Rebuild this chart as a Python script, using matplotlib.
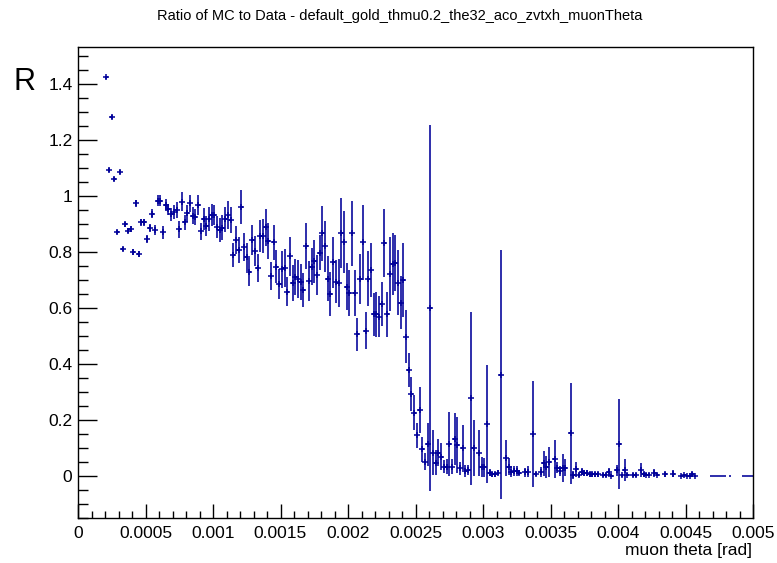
import numpy as np
import matplotlib
matplotlib.use('Agg')
import matplotlib.pyplot as plt
from matplotlib.ticker import MultipleLocator, FixedLocator

plt.rcParams['font.family'] = ['Liberation Sans', 'DejaVu Sans']

# histogram: 250 bins from 0 to 0.005 rad
bin_width = 0.00002
bins = [10, 11, 12, 13, 14, 15, 16, 17, 18, 19,
        20, 21, 22, 23, 24, 25, 26, 27, 28, 29,
        30, 31, 32, 33, 34, 35, 36, 37, 38, 39,
        40, 41, 42, 43, 44, 45, 46, 47, 48, 49,
        50, 51, 52, 53, 54, 55, 56, 57, 58, 59,
        60, 61, 62, 63, 64, 65, 66, 67, 68, 69,
        70, 71, 72, 73, 74, 75, 76, 77, 78, 79,
        80, 81, 82, 83, 84, 85, 86, 87, 88, 89,
        90, 91, 92, 93, 94, 95, 96, 97, 98, 99,
        100, 101, 102, 103, 104, 105, 106, 107, 108, 109,
        110, 111, 112, 113, 114, 115, 116, 117, 118, 119,
        120, 121, 122, 123, 124, 125, 126, 127, 128, 129,
        130, 131, 132, 133, 134, 135, 136, 137, 138, 139,
        140, 141, 142, 143, 144, 145, 146, 148, 149,
        150, 151, 152, 153, 154, 155, 156, 158, 159,
        160, 161, 162, 163, 165, 166, 168, 169,
        171, 172, 173, 174, 176, 177, 178, 179,
        180, 182, 183, 184, 185, 186, 187, 188, 189,
        190, 191, 192, 194, 195, 196, 197, 199,
        200, 201, 202, 203, 205, 206, 208, 209,
        210, 211, 213, 214, 217, 220,
        223, 224, 225, 226, 227, 228,
        234, 235, 236, 237, 238, 239, 241,
        246, 247, 248, 249]
ratio = [1.424, 1.093, 1.283, 1.06, 0.87, 1.085, 0.81, 0.899, 0.876, 0.882,
         0.80, 0.974, 0.793, 0.906, 0.906, 0.846, 0.885, 0.936, 0.879, 0.983,
         0.983, 0.870, 0.968, 0.952, 0.934, 0.944, 0.95, 0.881, 0.98, 0.906,
         0.938, 0.974, 0.929, 0.925, 0.969, 0.874, 0.918, 0.892, 0.918, 0.933,
         0.933, 0.89, 0.879, 0.886, 0.916, 0.932, 0.914, 0.789, 0.843, 0.807,
         0.96, 0.819, 0.783, 0.73, 0.843, 0.804, 0.744, 0.857, 0.857, 0.888,
         0.839, 0.715, 0.835, 0.748, 0.686, 0.738, 0.743, 0.658, 0.785, 0.69,
         0.712, 0.704, 0.694, 0.664, 0.82, 0.696, 0.748, 0.767, 0.718, 0.798,
         0.867, 0.82, 0.704, 0.65, 0.763, 0.694, 0.69, 0.867, 0.835, 0.676,
         0.655, 0.867, 0.655, 0.506, 0.704, 0.835, 0.519, 0.704, 0.736, 0.577,
         0.577, 0.569, 0.614, 0.831, 0.577, 0.721, 0.757, 0.762, 0.69, 0.619,
         0.70, 0.498, 0.379, 0.293, 0.226, 0.146, 0.236, 0.095, 0.051, 0.114,
         0.60, 0.083, 0.048, 0.083, 0.069, 0.033, 0.033, 0.114, 0.033, 0.132,
         0.111, 0.027, 0.101, 0.018, 0.021, 0.277, 0.101, 0.083, 0.033,
         0.031, 0.186, 0.012, 0.006, 0.006, 0.012, 0.362, 0.065, 0.033,
         0.015, 0.018, 0.018, 0.012, 0.013, 0.015, 0.15, 0.007,
         0.013, 0.045, 0.033, 0.051, 0.061, 0.03, 0.018, 0.027,
         0.03, 0.152, 0.004, 0.024, 0.004, 0.015, 0.01, 0.01, 0.006,
         0.006, 0.006, 0.006, 0.004, 0.004, 0.015, 0.001, 0.021,
         0.114, 0.002, 0.021, 0.004, 0.004, 0.004, 0.021, 0.006,
         0.004, 0.004, 0.01, 0.004, 0.006, 0.008,
         0.001, 0.002, 0.001, 0.001, 0.006, 0.001,
         0.0, 0.0, 0.0, 0.0, 0.0, 0.0, 0.0,
         0.0, 0.0, 0.0, 0.0]
ratio_err = [0.006, 0.006, 0.007, 0.007, 0.007, 0.008, 0.008, 0.009, 0.01, 0.01,
             0.01, 0.012, 0.012, 0.013, 0.013, 0.015, 0.015, 0.016, 0.017, 0.02,
             0.02, 0.022, 0.02, 0.02, 0.022, 0.025, 0.028, 0.03, 0.033, 0.027,
             0.03, 0.03, 0.03, 0.03, 0.036, 0.03, 0.039, 0.036, 0.042, 0.039,
             0.036, 0.039, 0.042, 0.045, 0.045, 0.05, 0.048, 0.042, 0.05, 0.048,
             0.06, 0.05, 0.05, 0.05, 0.054, 0.054, 0.05, 0.057, 0.06, 0.065,
             0.065, 0.05, 0.063, 0.06, 0.054, 0.067, 0.068, 0.052, 0.07, 0.064,
             0.064, 0.067, 0.064, 0.06, 0.082, 0.07, 0.067, 0.077, 0.071, 0.064,
             0.098, 0.092, 0.08, 0.079, 0.092, 0.077, 0.086, 0.125, 0.11, 0.083,
             0.082, 0.116, 0.082, 0.058, 0.09, 0.134, 0.067, 0.098, 0.096, 0.077,
             0.079, 0.073, 0.08, 0.121, 0.079, 0.131, 0.11, 0.1, 0.116, 0.095,
             0.131, 0.095, 0.06, 0.06, 0.062, 0.045, 0.083, 0.045, 0.03, 0.077,
             0.655, 0.08, 0.045, 0.048, 0.048, 0.024, 0.027, 0.113, 0.027, 0.093,
             0.1, 0.024, 0.08, 0.02, 0.018, 0.31, 0.1, 0.083, 0.036,
             0.033, 0.21, 0.012, 0.008, 0.008, 0.01, 0.444, 0.065, 0.03,
             0.02, 0.018, 0.018, 0.01, 0.015, 0.02, 0.19, 0.008,
             0.018, 0.045, 0.04, 0.053, 0.067, 0.02, 0.018, 0.05,
             0.03, 0.18, 0.015, 0.027, 0.008, 0.012, 0.01, 0.01, 0.008,
             0.008, 0.008, 0.008, 0.006, 0.006, 0.015, 0.005, 0.02,
             0.16, 0.006, 0.04, 0.005, 0.006, 0.006, 0.025, 0.008,
             0.005, 0.005, 0.015, 0.005, 0.01, 0.012,
             0.002, 0.003, 0.002, 0.002, 0.008, 0.002,
             0.0, 0.0, 0.0, 0.0, 0.0, 0.0, 0.0,
             0.0, 0.0, 0.0, 0.0]

x_ticks = [0, 0.0005, 0.001, 0.0015, 0.002, 0.0025, 0.003, 0.0035, 0.004, 0.0045, 0.005]
x_ticklabels = ['0', '0.0005', '0.001', '0.0015', '0.002', '0.0025', '0.003',
                '0.0035', '0.004', '0.0045', '0.005']
y_ticks = [0, 0.2, 0.4, 0.6, 0.8, 1.0, 1.2, 1.4]
y_ticklabels = ['0', '0.2', '0.4', '0.6', '0.8', '1', '1.2', '1.4']

theta = (np.array(bins) + 0.5) * bin_width
ratio = np.array(ratio)
ratio_err = np.array(ratio_err)
nz = ratio_err > 0   # bins with zero error are drawn as plain dashes

fig = plt.figure(figsize=(7.77, 5.63), dpi=100)
ax = fig.add_axes([78/777, 45/563, 675/777, (518-47)/563])

col = '#000099'
ax.errorbar(theta[nz], ratio[nz], yerr=ratio_err[nz], xerr=bin_width/2, fmt='+',
            color=col, ms=3.8, mew=1.1,
            ecolor=col, elinewidth=1.15, capsize=0)
ax.errorbar(theta[~nz], ratio[~nz], xerr=bin_width/2, fmt='none',
            ecolor=col, elinewidth=1.15, capsize=0)

ax.set_xlim(0, 0.005)
ax.set_ylim(-0.15, 1.532)

ax.xaxis.set_major_locator(FixedLocator(x_ticks))
ax.set_xticklabels(x_ticklabels)
ax.xaxis.set_minor_locator(MultipleLocator(0.0001))
ax.yaxis.set_major_locator(FixedLocator(y_ticks))
ax.set_yticklabels(y_ticklabels)
ax.yaxis.set_minor_locator(MultipleLocator(0.05))

ax.tick_params(axis='both', which='both', direction='in', top=False, right=False,
               labelsize=12.5, colors='black', width=1)
ax.tick_params(axis='x', which='major', length=10, pad=6)
ax.tick_params(axis='x', which='minor', length=5)
ax.tick_params(axis='y', which='major', length=14, pad=4)
ax.tick_params(axis='y', which='minor', length=7)
for s in ax.spines.values():
    s.set_linewidth(1)
    s.set_color('black')

fig.text(400/777, 1 - 16/563, 'Ratio of MC to Data - default_gold_thmu0.2_the32_aco_zvtxh_muonTheta',
         ha='center', va='center', fontsize=10.5)
fig.text(25/777, 1 - 82/563, 'R', ha='center', va='center', fontsize=22)
fig.text(752/777, 1 - 550/563, 'muon theta [rad]', ha='right', va='center', fontsize=12.5)

fig.savefig('out.png', dpi=100)
